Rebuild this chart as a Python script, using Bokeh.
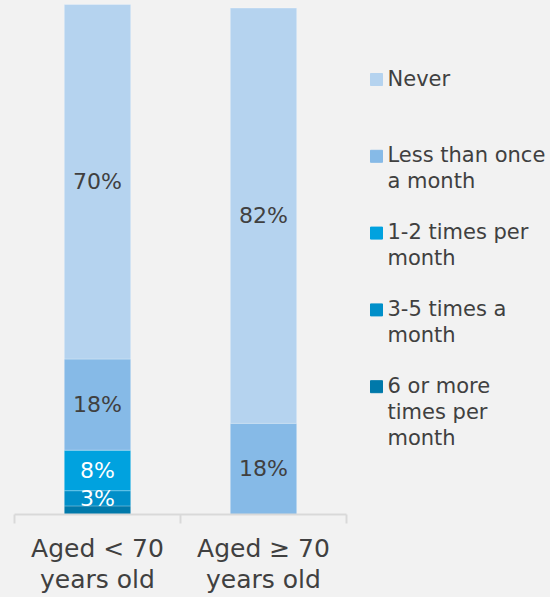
from bokeh.plotting import figure
from bokeh.models import Range1d, FixedTicker, ColumnDataSource
from bokeh.layouts import row
from bokeh.core.properties import value
from bokeh.embed import file_html
from bokeh.resources import INLINE

# Age groups (x categories)
groups = ["Aged < 70\nyears old", "Aged \u2265 70\nyears old"]

# Share of respondents per frequency band, bottom to top of each stack (%)
six_plus = [1.7, 0]
three_five = [3, 0]
one_two = [8, 0]
less_monthly = [18, 18]
never = [70, 82]

series_keys = ["six_plus", "three_five", "one_two", "less_monthly", "never"]
series_names = [
    "6 or more\ntimes per\nmonth",
    "3-5 times a\nmonth",
    "1-2 times per\nmonth",
    "Less than once\na month",
    "Never",
]
series_colors = ["#0079AA", "#008FC9", "#00A2DF", "#86BAE7", "#B5D3EF"]
label_colors = ["#FFFFFF", "#FFFFFF", "#FFFFFF", "#404040", "#404040"]

BG = "#F2F2F2"
FONT = "DejaVu Sans"
FRAME_H = 514      # plotting area height in pixels
BOTTOM = 83        # room for the category axis

xs = [i + 0.5 for i in range(len(groups))]
src = ColumnDataSource(dict(
    x=xs,
    six_plus=six_plus,
    three_five=three_five,
    one_two=one_two,
    less_monthly=less_monthly,
    never=never,
))

p = figure(
    width=366, height=FRAME_H + BOTTOM,
    x_range=Range1d(0, len(groups)), y_range=Range1d(0, 101.5),
    output_backend="svg", toolbar_location=None,
    y_axis_location=None,
    min_border_left=14, min_border_right=20,
    min_border_top=0, min_border_bottom=BOTTOM,
)
p.background_fill_color = BG
p.border_fill_color = BG
p.outline_line_color = None
p.grid.visible = False

p.vbar_stack(series_keys, x="x", width=0.4, color=series_colors,
             line_color="white", line_alpha=0.25, line_width=1, source=src)

# Percentage labels centred in each segment
lx, ly, lt, lc = [], [], [], []
vals = dict(six_plus=six_plus, three_five=three_five, one_two=one_two,
            less_monthly=less_monthly, never=never)
for gi, x in enumerate(xs):
    base = 0.0
    for key, col in zip(series_keys, label_colors):
        v = vals[key][gi]
        if v >= 3:
            lx.append(x)
            ly.append(base + v / 2)
            lt.append(f"{v:g}%")
            lc.append(col)
        base += v
p.text(x=lx, y=ly, text=lt, text_color=lc, text_align="center",
       text_baseline="middle", text_font=value(FONT), text_font_size="22px")

# Category axis: separators between groups, labels under each bar
ax = p.xaxis[0]
ax.ticker = FixedTicker(ticks=xs, minor_ticks=list(range(len(groups) + 1)))
ax.major_label_overrides = {x: g for x, g in zip(xs, groups)}
ax.axis_line_color = "#D9D9D9"
ax.axis_line_width = 2
ax.major_tick_line_color = None
ax.minor_tick_line_color = "#D9D9D9"
ax.minor_tick_line_width = 2
ax.minor_tick_in = 0
ax.minor_tick_out = 9
ax.major_label_standoff = 10
ax.major_label_text_font = FONT
ax.major_label_text_font_size = "25px"
ax.major_label_text_color = "#404040"
ax.major_label_text_line_height = 1.1

# Legend panel drawn in pixel coordinates (frame aligned with the chart's)
lg = figure(
    width=184, height=FRAME_H + BOTTOM,
    x_range=Range1d(0, 184), y_range=Range1d(FRAME_H, 0),
    output_backend="svg", toolbar_location=None,
    x_axis_location=None, y_axis_location=None,
    min_border_left=0, min_border_right=0,
    min_border_top=0, min_border_bottom=BOTTOM,
)
lg.background_fill_color = BG
lg.border_fill_color = BG
lg.outline_line_color = None
lg.grid.visible = False

order = list(range(len(series_names)))[::-1]
ys = [79 + i * 76.8 for i in range(len(order))]
lg.rect(x=[10] * len(order), y=ys, width=12, height=12,
        color=[series_colors[i] for i in order])
lg.text(x=[21] * len(order), y=[y - 13 for y in ys],
        text=[series_names[i] for i in order],
        text_color="#404040", text_align="left", text_baseline="top",
        text_font=value(FONT), text_font_size="21px", text_line_height=1.08)

layout = row(p, lg, styles={"background-color": BG})
open("out.html", "w").write(file_html(layout, INLINE))
